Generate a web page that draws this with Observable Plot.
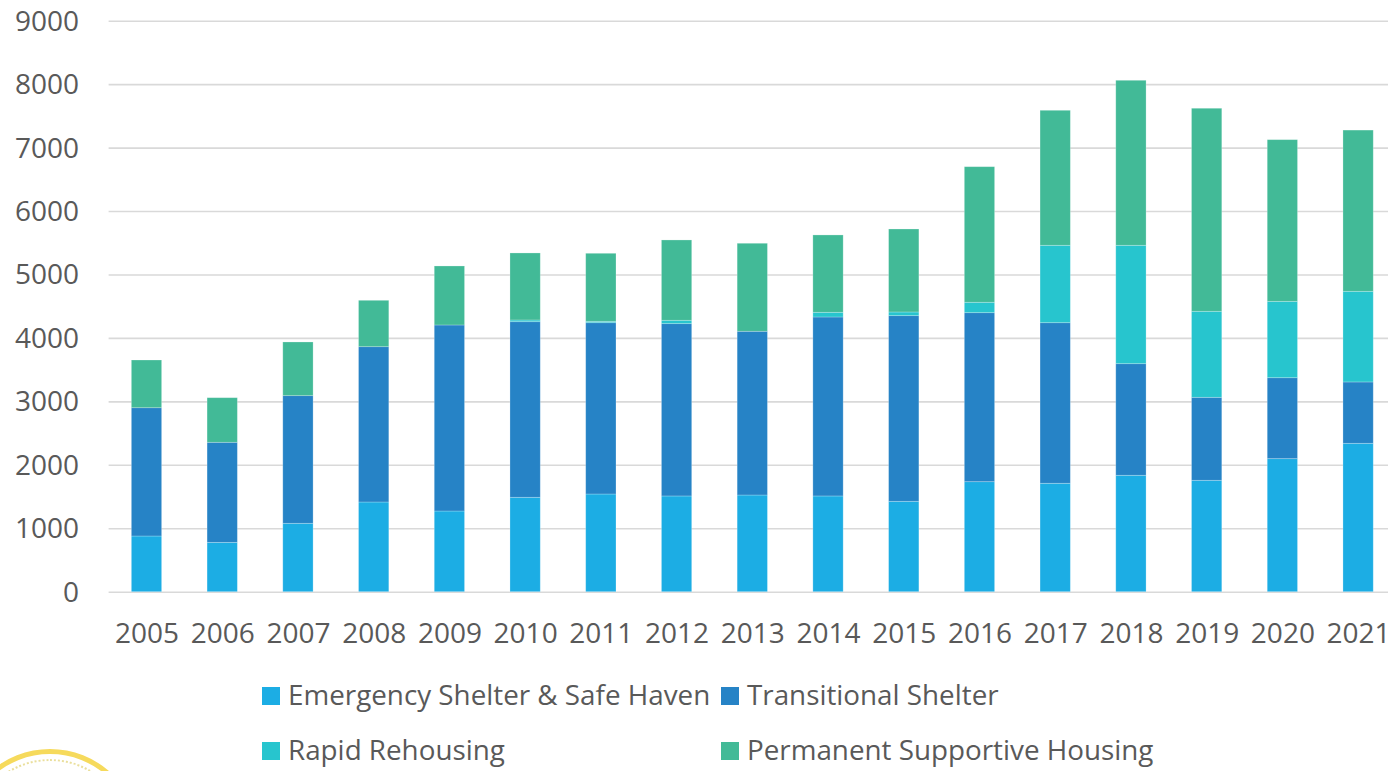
<!DOCTYPE html>
<html>
<head>
<meta charset="utf-8">
<script src="https://cdn.jsdelivr.net/npm/d3@7"></script>
<script src="https://cdn.jsdelivr.net/npm/@observablehq/plot@0.6"></script>
<style>
  html, body { margin: 0; padding: 0; background: #fff; width: 1388px; height: 771px; overflow: hidden; }
  body { position: relative; font-family: "Open Sans", sans-serif; color: #595959; }
  #chart svg { display: block; max-width: none; overflow: visible; background: transparent; }
  #legend { position: absolute; left: 262px; top: 668px; display: grid; grid-template-columns: 459px 440px; grid-auto-rows: 55px; font-size: 27.8px; }
  .item { display: flex; align-items: center; white-space: nowrap; }
  .item .name { position: relative; top: -1.5px; }
  .swatch { width: 18px; height: 18px; margin-right: 8px; flex: none; }
  #seal { position: absolute; left: -40px; top: 749px; width: 180px; height: 180px; box-sizing: border-box; border-radius: 50%; border: 5px solid #f6da5c; }
  #seal::after { content: ""; position: absolute; inset: 5px; border-radius: 50%; border: 2px dotted #eadf9c; }
</style>
</head>
<body>
<div id="chart"></div>
<div id="legend"></div>
<div id="seal"></div>
<script>
const years = [2005,2006,2007,2008,2009,2010,2011,2012,2013,2014,2015,2016,2017,2018,2019,2020,2021];
const seriesNames = ["Emergency Shelter & Safe Haven","Transitional Shelter","Rapid Rehousing","Permanent Supportive Housing"];
const seriesColors = ["#1CADE4","#2683C6","#27C5CE","#42BA97"];
const emergencyShelter = [878,778,1078,1414,1272,1488,1540,1509,1524,1509,1425,1734,1709,1835,1756,2097,2339];
const transitionalShelter = [2022,1577,2012,2448,2932,2768,2700,2716,2581,2821,2926,2664,2531,1759,1308,1276,967];
const rapidRehousing = [0,0,0,0,0,27,22,53,0,74,58,164,1220,1866,1356,1204,1429];
const permanentSupportive = [752,703,846,731,930,1056,1072,1266,1387,1219,1308,2137,2128,2601,3200,2548,2541];
const yTicks = [0,1000,2000,3000,4000,5000,6000,7000,8000,9000];

const seriesValues = [emergencyShelter, transitionalShelter, rapidRehousing, permanentSupportive];
const table = seriesNames.flatMap((name, s) =>
  years.map((year, i) => ({year, series: name, value: seriesValues[s][i]})).filter(d => d.value > 0));

const plot = Plot.plot({
  width: 1388,
  height: 660,
  marginLeft: 108.6,
  marginRight: 0,
  marginTop: 20,
  marginBottom: 68,
  style: {fontFamily: '"Open Sans", sans-serif', color: "#595959", background: "transparent"},
  x: {type: "band", domain: years, range: [108.63, 1395.96], paddingInner: 0.6, paddingOuter: 0.3, round: false, label: null},
  y: {domain: [0, 9000], range: [591.7, 20.7], label: null},
  color: {domain: seriesNames, range: seriesColors},
  marks: [
    Plot.ruleY(yTicks, {y: d => d, stroke: "#d9d9d9", strokeWidth: 1.6}),
    Plot.barY(table, {x: "year", y: "value", fill: "series", order: null, stroke: "#ffffff", strokeOpacity: 0.3, strokeWidth: 0.8}),
    Plot.axisY(yTicks, {anchor: "left", tickSize: 0, tickPadding: 30, fontSize: 28, dy: 0.5, fill: "#595959", tickFormat: d => String(d), label: null}),
    Plot.axisX(years, {anchor: "bottom", tickSize: 0, tickPadding: 31, fontSize: 28, fill: "#595959", tickFormat: d => String(d), label: null})
  ]
});
document.getElementById("chart").appendChild(plot);

const legend = document.getElementById("legend");
seriesNames.forEach((name, i) => {
  const item = document.createElement("div");
  item.className = "item";
  const sw = document.createElement("span");
  sw.className = "swatch";
  sw.style.background = seriesColors[i];
  const label = document.createElement("span");
  label.className = "name";
  label.textContent = name;
  item.append(sw, label);
  legend.appendChild(item);
});
</script>
</body>
</html>
